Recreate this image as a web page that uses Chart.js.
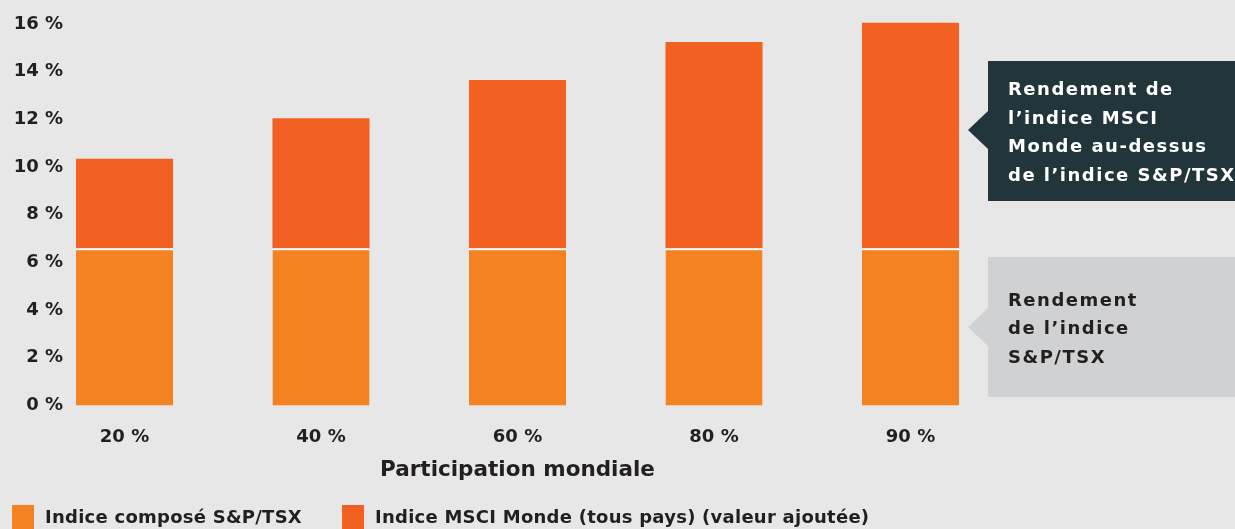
<!DOCTYPE html>
<html>
<head>
<meta charset="utf-8">
<script src="https://cdn.jsdelivr.net/npm/chart.js@4.4.0/dist/chart.umd.min.js"></script>
<style>
  html, body { margin: 0; padding: 0; background: #e6e7e6; }
  #wrap { position: relative; width: 1235px; height: 529px; overflow: hidden; }
  #legend { position: absolute; left: 0; top: 505px; font-family: "DejaVu Sans", sans-serif; font-weight: 700; font-size: 18px; letter-spacing: 0.25px; color: #231f20; }
  #legend i { position: absolute; top: 0; width: 22px; height: 24px; }
  #legend b { position: absolute; top: 0; white-space: nowrap; line-height: 24px; }
</style>
</head>
<body>
<div id="wrap">
  <canvas id="chart" width="1235" height="529"></canvas>
  <div id="legend"></div>
</div>
<script>
//-------------------
// data
//-------------------
var categories = ["20 %", "40 %", "60 %", "80 %", "90 %"];
var tsxValues = [6.6, 6.6, 6.6, 6.6, 6.6];          // S&P/TSX return
var msciExtra = [3.75, 5.45, 7.05, 8.65, 9.45];    // MSCI World value added on top
var seriesNames = ["Indice composé S&P/TSX", "Indice MSCI Monde (tous pays) (valeur ajoutée)"];
var seriesColors = ["#f58220", "#f26122"];
var yTicks = [0, 2, 4, 6, 8, 10, 12, 14, 16];

var textColor = "#231f20";
var fontFamily = "'DejaVu Sans', sans-serif";

// callout boxes on the right
var callouts = [
  { lines: ["Rendement de", "l\u2019indice MSCI", "Monde au-dessus", "de l\u2019indice S&P/TSX"], bg: "#22353a", fg: "#ffffff", top: 61, bottom: 201, tip: 130 },
  { lines: ["Rendement", "de l\u2019indice", "S&P/TSX"], bg: "#d0d1d2", fg: "#231f20", top: 257, bottom: 397, tip: 327 }
];

var calloutPlugin = {
  id: "callouts",
  afterDraw: function (chart) {
    var ctx = chart.ctx;
    ctx.save();
    callouts.forEach(function (c) {
      var x0 = 988, x1 = 1235;
      ctx.fillStyle = c.bg;
      ctx.fillRect(x0, c.top, x1 - x0, c.bottom - c.top);
      ctx.beginPath();
      ctx.moveTo(x0, c.tip - 19);
      ctx.lineTo(968, c.tip);
      ctx.lineTo(x0, c.tip + 19);
      ctx.closePath();
      ctx.fill();
      ctx.fillStyle = c.fg;
      ctx.font = "700 18px " + fontFamily;
      ctx.letterSpacing = "1.5px";
      ctx.textBaseline = "middle";
      var lineH = 28.5;
      var start = (c.top + c.bottom) / 2 - (c.lines.length - 1) * lineH / 2 + 2.5;
      c.lines.forEach(function (l, i) {
        ctx.fillText(l, 1008, start + i * lineH);
      });
    });
    ctx.restore();
  }
};

var canvas = document.getElementById("chart");
var chart = new Chart(canvas.getContext("2d"), {
  type: "bar",
  data: {
    labels: categories,
    datasets: [{
      label: seriesNames[0],
      data: tsxValues,
      backgroundColor: seriesColors[0],
      borderColor: "#ffffff",
      borderWidth: { top: 2, left: 0, right: 0, bottom: 0 },
      borderSkipped: false,
      clip: false
    }, {
      label: seriesNames[1],
      data: msciExtra,
      backgroundColor: seriesColors[1],
      borderWidth: 0,
      clip: false
    }]
  },
  options: {
    responsive: false,
    animation: false,
    layout: { padding: { top: 24, right: 324.5, bottom: 46, left: 0 } },
    plugins: {
      legend: { display: false },
      tooltip: { enabled: false }
    },
    datasets: { bar: { categoryPercentage: 1, barPercentage: 0.494 } },
    scales: {
      x: {
        stacked: true,
        offset: false,
        grid: { display: false, drawTicks: false },
        border: { display: false },
        ticks: { color: textColor, font: { family: fontFamily, size: 18, weight: "700" }, padding: 21, maxRotation: 0 },
        title: { display: true, text: "Participation mondiale", color: textColor, font: { family: fontFamily, size: 21.5, weight: "700" }, padding: 0 },
        afterFit: function (axis) { axis.height = 77.5; }
      },
      y: {
        stacked: true,
        min: 0,
        max: 16,
        afterBuildTicks: function (axis) { axis.ticks = yTicks.map(function (v) { return { value: v }; }); },
        grid: { display: false, drawTicks: false },
        border: { display: false },
        ticks: {
          color: textColor,
          font: { family: fontFamily, size: 18, weight: "700" },
          padding: 61.5,
          callback: function (v) { return v + " %"; }
        },
        afterFit: function (axis) {
          axis.width = 124.5;
          axis.paddingTop = 0;
          axis.paddingBottom = 0;
        }
      }
    }
  },
  plugins: [calloutPlugin]
});

// legend
var legend = document.getElementById("legend");
var legendBoxX = [12, 342];
var legendTextX = [45, 375];
seriesNames.forEach(function (name, i) {
  var box = document.createElement("i");
  box.style.left = legendBoxX[i] + "px";
  box.style.background = seriesColors[i];
  legend.appendChild(box);
  var txt = document.createElement("b");
  txt.style.left = legendTextX[i] + "px";
  txt.textContent = name;
  legend.appendChild(txt);
});
</script>
</body>
</html>
